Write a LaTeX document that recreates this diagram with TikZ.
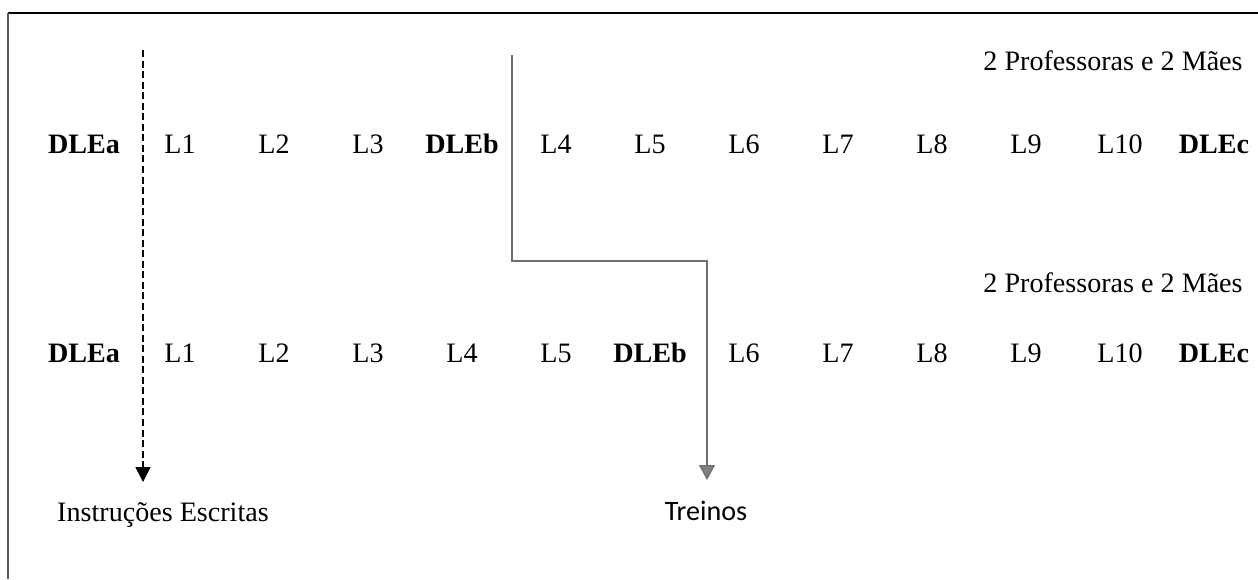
\documentclass[tikz,border=0pt]{standalone}
\usepackage{fontspec}
\setmainfont{Liberation Serif}
\newfontfamily\treinosfont{Carlito}
\usetikzlibrary{arrows.meta}

\begin{document}
\begin{tikzpicture}[x=0.02cm,y=-0.02cm,
  item/.style={anchor=base,inner sep=0pt,font=\fontsize{16}{19}\selectfont},
  dle/.style={item,font=\fontsize{16}{19}\selectfont\bfseries},
  dashline/.style={black,line width=0.9pt,dash pattern=on 4pt off 2pt,-{Triangle[length=8.5pt,width=8.5pt]}},
  treinoline/.style={draw={rgb,255:red,110;green,110;blue,110},line width=0.7pt,-{Triangle[length=8.5pt,width=9pt,fill={rgb,255:red,128;green,128;blue,128}]}}]
\useasboundingbox (0,0) rectangle (1258,579);
% frame
\draw[black,line width=1.6pt] (8,13) -- (1258,13);
\draw[gray!70!black,line width=1.1pt] (8,13) -- (8,579);
% first sequence
\node[item,anchor=base east] (grupoA) at (1243,70) {2 Professoras e 2 Mães};
\node[dle] (a0) at (84,153) {DLEa};
\foreach \txt/\pos/\sty in {L1/1/item,L2/2/item,L3/3/item,DLEb/4/dle,L4/5/item,L5/6/item,
    L6/7/item,L7/8/item,L8/9/item,L9/10/item,L10/11/item,DLEc/12/dle}
  { \node[\sty] (a\pos) at ({180+94*(\pos-1)},153) {\txt}; }
% second sequence
\node[item,anchor=base east] (grupoB) at (1243,292) {2 Professoras e 2 Mães};
\node[dle] (b0) at (84,362) {DLEa};
\foreach \txt/\pos/\sty in {L1/1/item,L2/2/item,L3/3/item,L4/4/item,L5/5/item,DLEb/6/dle,
    L6/7/item,L7/8/item,L8/9/item,L9/10/item,L10/11/item,DLEc/12/dle}
  { \node[\sty] (b\pos) at ({180+94*(\pos-1)},362) {\txt}; }
% labels below
\node[item] (instr) at (163,521) {Instruções Escritas};
\node[item,font=\fontsize{16}{19}\selectfont\treinosfont] (treinos) at (706,520) {Treinos};
\coordinate (dtop) at (143,50);
\coordinate (dtip) at (143,482);
\coordinate (stop) at (512,55);
\coordinate (sbend) at (707,261);
\coordinate (stip) at (707,480);
\draw[dashline] (dtop) -- (dtip);
\draw[treinoline] (stop) |- (sbend) -- (stip);
\end{tikzpicture}
\end{document}
